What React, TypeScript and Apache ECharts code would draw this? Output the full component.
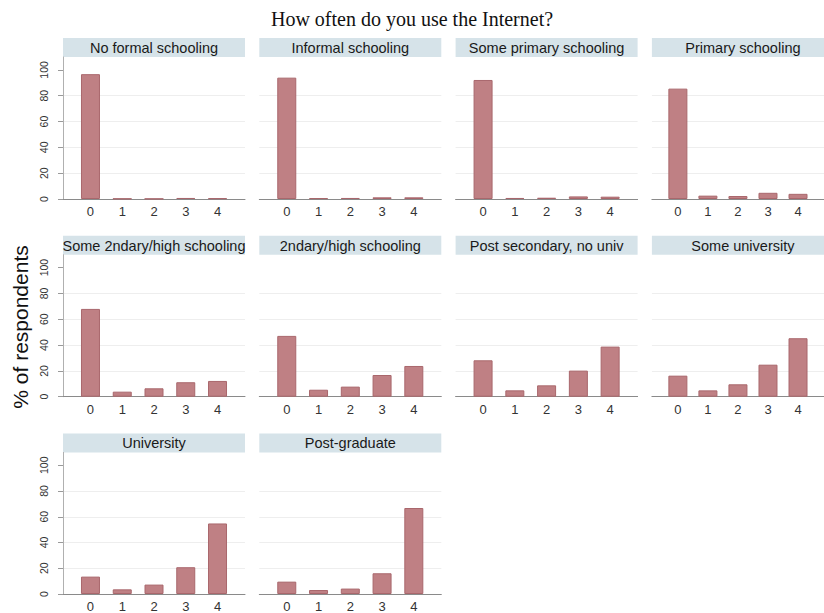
import React, { useEffect, useRef } from "react";
import * as echarts from "echarts";

const TITLE = "How often do you use the Internet?";
const Y_TITLE = "% of respondents";
const FREQ = [0, 1, 2, 3, 4];
const Y_TICKS = [0, 20, 40, 60, 80, 100];

const PANELS = [
  "No formal schooling",
  "Informal schooling",
  "Some primary schooling",
  "Primary schooling",
  "Some 2ndary/high schooling",
  "2ndary/high schooling",
  "Post secondary, no univ",
  "Some university",
  "University",
  "Post-graduate",
];

const noFormal = [96.7, 0.3, 0.2, 0.8, 0.6];
const informal = [94, 0.7, 0.8, 1.3, 1.3];
const somePrimary = [92.2, 0.8, 1, 2, 1.8];
const primary = [85.5, 2.6, 2.3, 4.8, 4];
const some2ndary = [68, 3.9, 6.5, 11.2, 12.2];
const secondary = [47.1, 5.4, 7.8, 16.8, 23.8];
const postSecondary = [28.2, 4.9, 8.8, 20.2, 38.8];
const someUniv = [16.3, 4.9, 9.6, 24.8, 45.3];
const university = [13.5, 3.6, 7.3, 20.8, 54.8];
const postGrad = [9.6, 3.1, 4.2, 16.1, 66.8];

const VALUES = [
  noFormal,
  informal,
  somePrimary,
  primary,
  some2ndary,
  secondary,
  postSecondary,
  someUniv,
  university,
  postGrad,
];

export default function App() {
  const ref = useRef<HTMLDivElement>(null);
  useEffect(() => {
    if (!ref.current) return;
    const chart = echarts.init(ref.current, null, { renderer: "svg" });
    const colLeft = 63;
    const colStride = 196.3;
    const panelW = 182;
    const rowTop = 38;
    const rowStride = 197.7;
    const headerH = 19;
    const plotH = 142;

    const grids: any[] = [];
    const xAxes: any[] = [];
    const yAxes: any[] = [];
    const series: any[] = [];
    const graphics: any[] = [];

    PANELS.forEach((name, i) => {
      const r = Math.floor(i / 4);
      const c = i % 4;
      const left = colLeft + c * colStride;
      const top = rowTop + r * rowStride;
      grids.push({
        left,
        top: top + headerH,
        width: panelW,
        height: plotH,
        containLabel: false,
      });
      xAxes.push({
        type: "value",
        gridIndex: i,
        min: -0.865,
        max: 4.865,
        axisLine: { show: true, onZero: false, lineStyle: { color: "#8a8a8a", width: 1 } },
        axisTick: { show: false },
        splitLine: { show: false },
        axisLabel: {
          customValues: FREQ,
          color: "#333",
          fontSize: 13,
          fontFamily: "Liberation Sans, Arial, sans-serif",
          margin: 6,
        },
      });
      const first = c === 0;
      yAxes.push({
        type: "value",
        gridIndex: i,
        min: 0,
        max: 110,
        interval: 20,
        axisLine: { show: first, onZero: false, lineStyle: { color: "#b0b0b0", width: 1 } },
        axisTick: {
          show: first,
          length: 5,
          lineStyle: { color: "#9a9a9a" },
          customValues: Y_TICKS,
        },
        axisLabel: { show: false },
        splitLine: {
          show: true,
          showMaxLine: false,
          lineStyle: { color: "#eeeeee", width: 1 },
        },
      });
      series.push({
        type: "bar",
        xAxisIndex: i,
        yAxisIndex: i,
        barWidth: 19,
        data: FREQ.map((f, k) => [f, VALUES[i][k]]),
        itemStyle: {
          color: "#bf8084",
          borderColor: "#a9676c",
          borderWidth: 1,
        },
      });
      graphics.push({
        type: "rect",
        shape: { x: left, y: top, width: panelW, height: headerH },
        style: { fill: "#d6e3e9" },
        silent: true,
      });
      graphics.push({
        type: "text",
        x: left + panelW / 2,
        y: top + headerH / 2 + 0.5,
        style: {
          text: name,
          fill: "#1a1a1a",
          font: "14.5px 'Liberation Sans', Arial, sans-serif",
          textAlign: "center",
          textVerticalAlign: "middle",
        },
        silent: true,
      });
    });

    graphics.push({
      type: "text",
      x: 412,
      y: 19,
      style: {
        text: TITLE,
        fill: "#111",
        font: "20px 'Liberation Serif', 'Times New Roman', serif",
        textAlign: "center",
        textVerticalAlign: "middle",
      },
      silent: true,
    });
    graphics.push({
      type: "text",
      x: 20,
      y: 327,
      rotation: Math.PI / 2,
      style: {
        text: Y_TITLE,
        fill: "#111",
        font: "21px 'Liberation Sans', Arial, sans-serif",
        textAlign: "center",
        textVerticalAlign: "middle",
      },
      silent: true,
    });

    chart.setOption({
      animation: false,
      backgroundColor: "#ffffff",
      grid: grids,
      xAxis: xAxes,
      yAxis: yAxes,
      series,
      graphic: graphics,
    });

    // rotated y-axis tick labels, positioned through the library's y scales
    const labels: any[] = [];
    PANELS.forEach((_, i) => {
      if (i % 4 !== 0) return;
      Y_TICKS.forEach((v) => {
        const py = chart.convertToPixel({ yAxisIndex: i }, v) as number;
        labels.push({
          type: "text",
          x: 44,
          y: py,
          rotation: Math.PI / 2,
          style: {
            text: String(v),
            fill: "#333",
            font: "10.5px 'Liberation Sans', Arial, sans-serif",
            textAlign: "center",
            textVerticalAlign: "middle",
          },
          silent: true,
        });
      });
    });
    chart.setOption({ graphic: graphics.concat(labels) });

    return () => chart.dispose();
  }, []);
  return (
    <div
      ref={ref}
      style={{ position: "absolute", left: 0, top: 0, width: 824, height: 613 }}
    />
  );
}
